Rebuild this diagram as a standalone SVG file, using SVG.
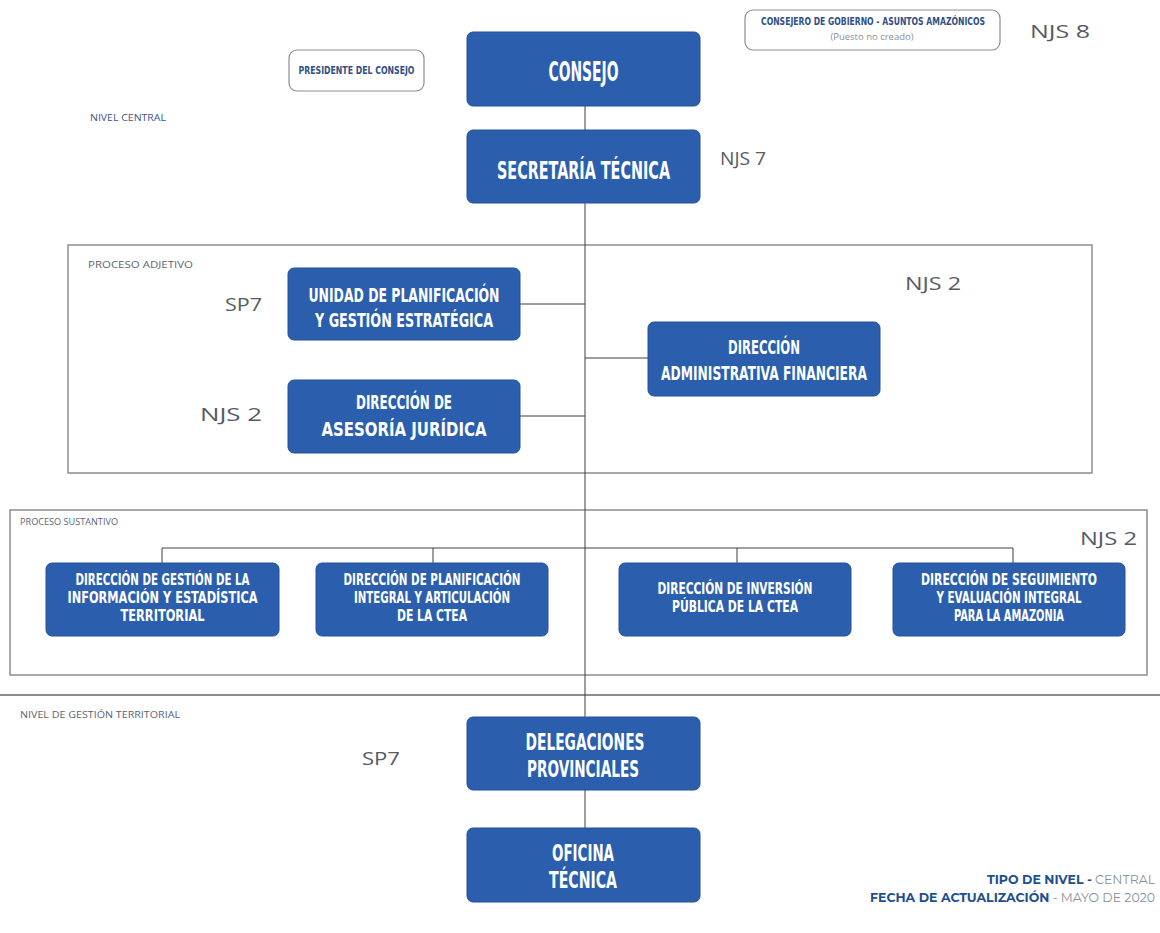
<svg xmlns="http://www.w3.org/2000/svg" width="1160" height="933" viewBox="0 0 1160 933">
<style>
.bx{fill:#2b5fae;stroke:#24529a;stroke-width:1}
.bt{fill:#ffffff;font-family:"Liberation Sans Narrow","DejaVu Sans Condensed","DejaVu Sans",sans-serif;font-weight:bold;text-anchor:middle}
.big{font-size:26px}
.big2{font-size:23px}
.mid{font-size:20px}
.sm{font-size:15px}
.lv{fill:#555a63;font-family:"Open Sans","Noto Sans",sans-serif;font-size:18px}
.sec{fill:#5a6475;font-family:"Open Sans","Noto Sans",sans-serif;font-size:9.5px}
.ln{fill:none;stroke:#3a3f47;stroke-width:1}
.frame{fill:none;stroke:#8a8d92;stroke-width:1.5}
.ob{fill:#ffffff;stroke:#8a8d92;stroke-width:1.2}
.ot{fill:#2f4f86;font-family:"Liberation Sans Narrow","DejaVu Sans Condensed",sans-serif;font-weight:bold;font-size:10px;text-anchor:middle}
</style>
<rect width="1160" height="933" fill="#ffffff"/>

<g id="frames">
<rect class="frame" x="68" y="245" width="1024" height="228"/>
<rect class="frame" x="10" y="510" width="1137" height="165"/>
<line x1="0" y1="695" x2="1160" y2="695" stroke="#8a8d92" stroke-width="2"/>
</g>

<g id="connectors">
<line class="ln" x1="585" y1="106" x2="585" y2="828"/>
<line class="ln" x1="520" y1="304" x2="585" y2="304"/>
<line class="ln" x1="520" y1="416" x2="585" y2="416"/>
<line class="ln" x1="585" y1="358" x2="648" y2="358"/>
<polyline class="ln" points="162,563 162,548 1013,548 1013,563"/>
<line class="ln" x1="433" y1="548" x2="433" y2="563"/>
<line class="ln" x1="737" y1="548" x2="737" y2="563"/>
</g>

<g id="labels">
<text class="sec" x="90" y="121" textLength="76" lengthAdjust="spacingAndGlyphs" style="fill:#3d5585">NIVEL CENTRAL</text>
<text class="sec" x="88" y="268" textLength="105" lengthAdjust="spacingAndGlyphs">PROCESO ADJETIVO</text>
<text class="sec" x="20" y="525" textLength="98" lengthAdjust="spacingAndGlyphs">PROCESO SUSTANTIVO</text>
<text class="sec" x="20" y="718" textLength="160" lengthAdjust="spacingAndGlyphs">NIVEL DE GESTIÓN TERRITORIAL</text>
<text class="lv" x="1030" y="38" textLength="60" lengthAdjust="spacingAndGlyphs">NJS 8</text>
<text class="lv" x="720" y="165" textLength="46" lengthAdjust="spacingAndGlyphs">NJS 7</text>
<text class="lv" x="225" y="311" textLength="37" lengthAdjust="spacingAndGlyphs">SP7</text>
<text class="lv" x="200" y="421" textLength="62" lengthAdjust="spacingAndGlyphs">NJS 2</text>
<text class="lv" x="905" y="290" textLength="56" lengthAdjust="spacingAndGlyphs">NJS 2</text>
<text class="lv" x="1080" y="545" textLength="57" lengthAdjust="spacingAndGlyphs">NJS 2</text>
<text class="lv" x="362" y="765" textLength="38" lengthAdjust="spacingAndGlyphs">SP7</text>
<text x="1155" y="884" text-anchor="end" font-family="Montserrat,'Open Sans','Noto Sans',sans-serif" font-size="12.5"><tspan font-weight="bold" fill="#1e4f8e">TIPO DE NIVEL -</tspan><tspan fill="#8a8f98"> CENTRAL</tspan></text>
<text x="1155" y="902" text-anchor="end" font-family="Montserrat,'Open Sans','Noto Sans',sans-serif" font-size="12.5"><tspan font-weight="bold" fill="#1e4f8e">FECHA DE ACTUALIZACIÓN</tspan><tspan fill="#8a8f98"> - MAYO DE 2020</tspan></text>
</g>

<g id="presidente">
<rect class="ob" x="289" y="50" width="135" height="41" rx="8"/>
<text class="ot" x="356.5" y="74" textLength="116" lengthAdjust="spacingAndGlyphs">PRESIDENTE DEL CONSEJO</text>
</g>

<g id="consejero">
<rect class="ob" x="745" y="10" width="255" height="40" rx="8"/>
<text class="ot" x="873" y="25" textLength="224" lengthAdjust="spacingAndGlyphs">CONSEJERO DE GOBIERNO - ASUNTOS AMAZÓNICOS</text>
<text x="872" y="40" text-anchor="middle" font-family="'Open Sans','Noto Sans',sans-serif" font-size="9.5" fill="#8a8f98">(Puesto no creado)</text>
</g>

<g id="consejo">
<rect class="bx" x="467" y="32" width="233" height="74" rx="6"/>
<text class="bt big" x="583.5" y="81" textLength="70" lengthAdjust="spacingAndGlyphs">CONSEJO</text>
</g>

<g id="secretaria">
<rect class="bx" x="467" y="130" width="233" height="73" rx="6"/>
<text class="bt" transform="translate(583.5,179) scale(1,1.25)" x="0" y="0" font-size="20" textLength="173" lengthAdjust="spacingAndGlyphs">SECRETARÍA TÉCNICA</text>
</g>

<g id="unidad-planificacion">
<rect class="bx" x="288" y="268" width="232" height="72" rx="6"/>
<text class="bt mid" x="404" y="302" textLength="191" lengthAdjust="spacingAndGlyphs">UNIDAD DE PLANIFICACIÓN</text>
<text class="bt mid" x="404" y="327" textLength="178" lengthAdjust="spacingAndGlyphs">Y GESTIÓN ESTRATÉGICA</text>
</g>

<g id="asesoria-juridica">
<rect class="bx" x="288" y="380" width="232" height="73" rx="6"/>
<text class="bt mid" x="404" y="409" textLength="96" lengthAdjust="spacingAndGlyphs">DIRECCIÓN DE</text>
<text class="bt mid" x="404" y="436" textLength="165" lengthAdjust="spacingAndGlyphs">ASESORÍA JURÍDICA</text>
</g>

<g id="administrativa-financiera">
<rect class="bx" x="648" y="322" width="232" height="74" rx="6"/>
<text class="bt mid" x="764" y="354" textLength="72" lengthAdjust="spacingAndGlyphs">DIRECCIÓN</text>
<text class="bt mid" x="764" y="380" textLength="206" lengthAdjust="spacingAndGlyphs">ADMINISTRATIVA FINANCIERA</text>
</g>

<g id="gestion-informacion">
<rect class="bx" x="46" y="563" width="233" height="73" rx="6"/>
<text class="bt sm" x="162.5" y="585" textLength="174" lengthAdjust="spacingAndGlyphs">DIRECCIÓN DE GESTIÓN DE LA</text>
<text class="bt sm" x="162.5" y="603" textLength="190" lengthAdjust="spacingAndGlyphs">INFORMACIÓN Y ESTADÍSTICA</text>
<text class="bt sm" x="162.5" y="621" textLength="84" lengthAdjust="spacingAndGlyphs">TERRITORIAL</text>
</g>

<g id="planificacion-integral">
<rect class="bx" x="316" y="563" width="232" height="73" rx="6"/>
<text class="bt sm" x="432" y="585" textLength="177" lengthAdjust="spacingAndGlyphs">DIRECCIÓN DE PLANIFICACIÓN</text>
<text class="bt sm" x="432" y="603" textLength="156" lengthAdjust="spacingAndGlyphs">INTEGRAL Y ARTICULACIÓN</text>
<text class="bt sm" x="432" y="621" textLength="70" lengthAdjust="spacingAndGlyphs">DE LA CTEA</text>
</g>

<g id="inversion-publica">
<rect class="bx" x="619" y="563" width="232" height="73" rx="6"/>
<text class="bt sm" x="735" y="594" textLength="155" lengthAdjust="spacingAndGlyphs">DIRECCIÓN DE INVERSIÓN</text>
<text class="bt sm" x="735" y="612" textLength="126" lengthAdjust="spacingAndGlyphs">PÚBLICA DE LA CTEA</text>
</g>

<g id="seguimiento-evaluacion">
<rect class="bx" x="893" y="563" width="232" height="73" rx="6"/>
<text class="bt sm" x="1009" y="585" textLength="176" lengthAdjust="spacingAndGlyphs">DIRECCIÓN DE SEGUIMIENTO</text>
<text class="bt sm" x="1009" y="603" textLength="145" lengthAdjust="spacingAndGlyphs">Y EVALUACIÓN INTEGRAL</text>
<text class="bt sm" x="1009" y="621" textLength="110" lengthAdjust="spacingAndGlyphs">PARA LA AMAZONIA</text>
</g>

<g id="delegaciones">
<rect class="bx" x="467" y="717" width="233" height="73" rx="6"/>
<text class="bt big2" x="585" y="750" textLength="119" lengthAdjust="spacingAndGlyphs">DELEGACIONES</text>
<text class="bt big2" x="583" y="777" textLength="112" lengthAdjust="spacingAndGlyphs">PROVINCIALES</text>
</g>

<g id="oficina">
<rect class="bx" x="467" y="828" width="233" height="74" rx="6"/>
<text class="bt big2" x="583" y="861" textLength="62" lengthAdjust="spacingAndGlyphs">OFICINA</text>
<text class="bt big2" x="583" y="888" textLength="68" lengthAdjust="spacingAndGlyphs">TÉCNICA</text>
</g>
</svg>
